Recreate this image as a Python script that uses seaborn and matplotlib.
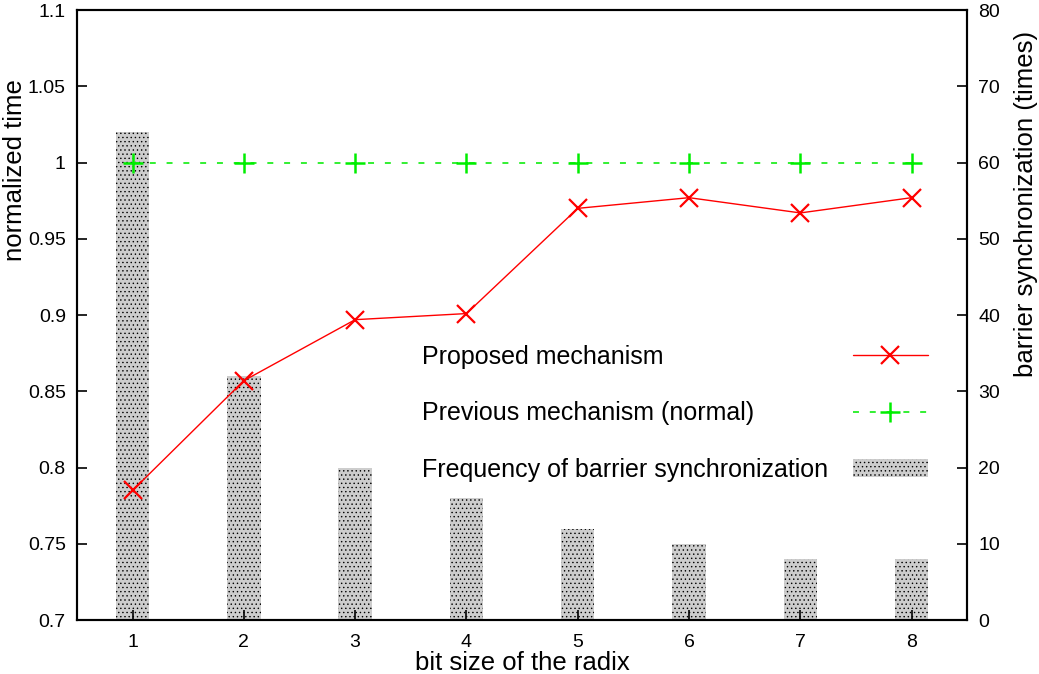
import numpy as np
import pandas as pd
import matplotlib
matplotlib.use("Agg")
import matplotlib.pyplot as plt
from matplotlib.lines import Line2D
import seaborn as sns

# data
bit_sizes = [1, 2, 3, 4, 5, 6, 7, 8]
proposed = [0.785, 0.857, 0.897, 0.901, 0.970, 0.977, 0.967, 0.977]
previous = [1.0, 1.0, 1.0, 1.0, 1.0, 1.0, 1.0, 1.0]
barrier_freq = [64, 32, 20, 16, 12, 10, 8, 8]

sns.set_style("ticks")
plt.rcParams["font.family"] = ["Liberation Sans", "DejaVu Sans"]
plt.rcParams["hatch.linewidth"] = 0.5
for key in ("text.color", "axes.labelcolor", "xtick.color", "ytick.color", "axes.edgecolor"):
    plt.rcParams[key] = "black"

df = pd.DataFrame({"bits": bit_sizes, "proposed": proposed,
                   "previous": previous, "freq": barrier_freq})

fig, ax = plt.subplots(figsize=(10.39, 6.74), dpi=100)
fig.subplots_adjust(left=0.074, right=0.931, top=0.985, bottom=0.080)
ax2 = ax.twinx()

# bars on the right axis, drawn behind the lines
sns.barplot(data=df, x="bits", y="freq", ax=ax2, native_scale=True,
            width=0.3, color="#cdcdcd", saturation=1, errorbar=None,
            hatch="....", edgecolor="black", linewidth=0,
            label="Frequency of barrier synchronization")

sns.lineplot(data=df, x="bits", y="proposed", ax=ax, color="#ff0000",
             linewidth=1, marker="x", markersize=13, markeredgewidth=1.6,
             markeredgecolor="#ff0000", label="Proposed mechanism")
sns.lineplot(data=df, x="bits", y="previous", ax=ax, color="#22ee22",
             linewidth=1.3, linestyle=(0, (3.3, 6.0)), marker="+", markersize=14,
             markeredgewidth=1.8, markeredgecolor="#00ee00",
             label="Previous mechanism (normal)")

ax.set_zorder(ax2.get_zorder() + 1)
ax.patch.set_visible(False)

ax.set_xlim(0.5, 8.5)
ax.set_ylim(0.7, 1.1)
ax2.set_ylim(0, 80)
ax.set_xticks(bit_sizes)
ax.set_yticks([0.7, 0.75, 0.8, 0.85, 0.9, 0.95, 1.0, 1.05, 1.1])
ax.set_yticklabels(["0.7", "0.75", "0.8", "0.85", "0.9", "0.95", "1", "1.05", "1.1"])
ax2.set_yticks(range(0, 81, 10))

ax.set_xlabel("bit size of the radix", fontsize=18.5, labelpad=0)
ax.set_ylabel("normalized time", fontsize=18.5)
ax2.set_ylabel("barrier synchronization (times)", fontsize=18.5)
ax.yaxis.set_label_coords(-0.056, 0.738)
ax2.yaxis.set_label_coords(1.052, 0.683)

for a in (ax, ax2):
    a.tick_params(direction="in", length=7, width=1.2, labelsize=14, pad=8)
    for s in a.spines.values():
        s.set_linewidth(1.5)
ax.tick_params(axis="x", pad=10)

h1, l1 = ax.get_legend_handles_labels()
h2, l2 = ax2.get_legend_handles_labels()
leg = ax2.get_legend()
if leg is not None:
    leg.remove()
handles = h1 + h2
labels = l1 + l2

# gnuplot-style key: left-aligned texts, samples in a column on the right
blank = [Line2D([], [], linestyle="none") for _ in labels]
leg_text = ax.legend(blank, labels, loc="upper left", bbox_to_anchor=(0.362, 0.488),
                     frameon=False, fontsize=18, labelspacing=1.3,
                     handlelength=0, handletextpad=0)
ax.add_artist(leg_text)
ax.legend(handles, [""] * len(handles), loc="upper right", bbox_to_anchor=(0.981, 0.488),
          frameon=False, fontsize=18, labelspacing=1.3,
          handlelength=3, handletextpad=0)

fig.savefig("out.png", dpi=100)
